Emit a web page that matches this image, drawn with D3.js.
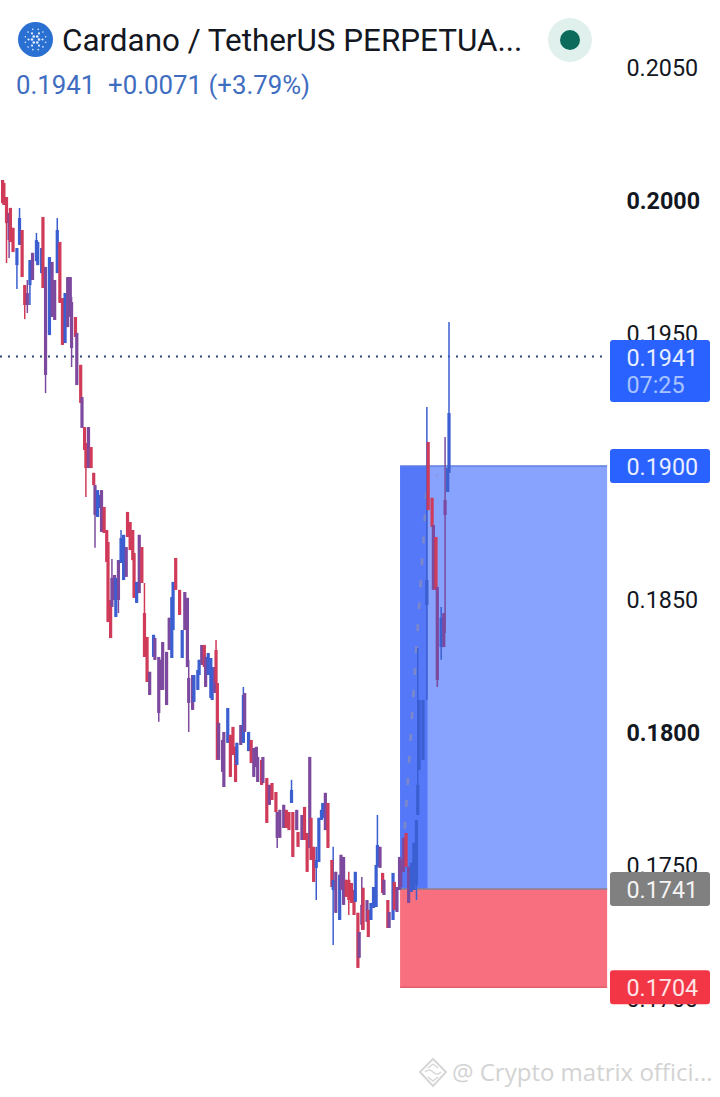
<!DOCTYPE html>
<html><head><meta charset="utf-8">
<script src="https://cdn.jsdelivr.net/npm/d3@7"></script>
<style>html,body{margin:0;padding:0;background:#fff}svg{display:block}text{font-family:Roboto,sans-serif}</style>
</head><body><svg id="c" width="720" height="1097"></svg>
<script>
const title = "Cardano / TetherUS PERPETUA...";
const quote = "0.1941  +0.0071 (+3.79%)";
const watermark = "@ Crypto matrix offici...";
const axisTicks = [0.205,0.2,0.195,0.19,0.185,0.18,0.175,0.17];
const boldTicks = [0.2,0.18];
const lastPrice = 0.1941, countdown = "07:25", targetPrice = 0.19, entryPrice = 0.1741, stopPrice = 0.1704;
const boxStart = 307.4, overlapEnd = 328.5, boxEnd = 466.5;
const pathTimes = [311,329,336], pathPrices = [0.1764,0.19,0.18966];

// one candle per entry; prices
const times = [2,3,5,7,8,10,13,15,17,19,21,23,25,28,29,32,33,35,38,40,42,44,46,48,50,52,54,55,58,59,62,63,65,66,68,70,72,73,75,76,78,80,82,83,85,86,88,89,91,93,95,97,98,100,102,103,105,107,109,111,113,115,118,119,122,124,125,128,130,132,133,135,138,140,142,144,145,148,149,152,153,155,157,158,160,162,163,165,166,167,168,171,172,175,177,179,181,182,185,187,188,191,193,195,197,198,201,202,205,207,209,212,213,215,218,220,222,224,225,228,229,232,234,236,238,239,241,243,245,247,248,250,252,255,256,258,261,262,264,266,268,270,272,273,275,276,278,279,282,283,285,287,289,290,292,294,295,298,299,302,303,305,307,308,310,312,314,316,318,320,321,322,325,328,329,332,333,335,336,339,341,342,344,345];
const bodyHigh = [.20079,.20068,.20015,.19955,.19974,.19899,.19823,.19936,.19891,.19684,.19654,.19778,.19805,.19853,.19846,.19823,.1994,.19752,.19789,.19771,.19703,.19891,.19846,.19635,.19654,.19714,.19714,.1962,.19564,.19504,.19384,.19263,.1915,.1909,.1915,.19075,.18978,.18932,.18913,.18895,.18913,.1885,.18763,.18718,.185,.18583,.18594,.18583,.1865,.18733,.18745,.18699,.18831,.18793,.18763,.18677,.18568,.18745,.18699,.18451,.18361,.1823,.18369,.18357,.18286,.18275,.18342,.18305,.18433,.18511,.18568,.18658,.18538,.18387,.1853,.18508,.18207,.18218,.18218,.18237,.18275,.18331,.18331,.18286,.18301,.18282,.18248,.18248,.18312,.18188,.18038,.17974,.18004,.18094,.17993,.18023,.17948,.17963,.1803,.18143,.1815,.18004,.17974,.17944,.17948,.1791,.17899,.1791,.17831,.17805,.17812,.17778,.17703,.17711,.1773,.17711,.17703,.17786,.17703,.17711,.17628,.17692,.17722,.17624,.1791,.17681,.17572,.17523,.17681,.17711,.17737,.17775,.17737,.17523,.17448,.17478,.17467,.17542,.17534,.17448,.17448,.17436,.1741,.17478,.17324,.17252,.17354,.17418,.17372,.17335,.17361,.17421,.17504,.17579,.17572,.17474,.17448,.17372,.17327,.17474,.1744,.17421,.17534,.17523,.17606,.17624,.17497,.17512,.17587,.17673,.17805,.18124,.18124,.18575,.19094,.18884,.18782,.18737,.18549,.18433,.18451,.18876,.18996,.19203];
const bodyLow = [.19992,.19985,.19917,.19853,.19846,.19808,.19759,.19835,.19714,.19609,.19609,.19684,.19703,.19774,.19759,.19729,.19673,.19346,.19496,.19564,.19553,.19729,.19617,.19459,.19466,.19526,.19564,.19447,.19489,.19308,.19241,.19147,.19064,.18996,.18996,.18996,.18932,.1882,.18812,.18846,.18756,.18752,.18643,.18417,.18357,.18474,.185,.18436,.185,.18639,.18575,.18587,.18737,.18688,.1865,.18508,.18489,.18526,.18564,.18286,.18192,.18143,.18286,.18275,.18075,.18162,.18162,.18105,.18312,.18282,.18387,.18538,.18444,.18282,.18387,.18248,.18113,.18087,.18117,.18162,.18218,.18256,.18248,.18173,.18218,.18132,.18124,.18151,.18188,.17899,.17899,.17854,.17797,.17963,.17835,.17917,.17816,.1788,.17955,.17963,.18004,.17932,.17887,.17835,.17872,.17816,.17805,.17812,.17662,.1773,.17748,.17703,.17606,.17606,.17643,.17643,.17635,.17737,.17534,.17635,.17572,.17598,.17598,.17478,.17568,.17523,.1744,.17493,.17515,.17673,.17681,.17635,.17568,.17421,.1741,.17324,.17297,.1741,.17354,.17384,.17372,.17361,.17316,.17365,.17117,.17155,.17279,.1726,.1729,.17233,.17297,.17342,.17346,.17496,.17493,.17399,.17391,.17267,.17267,.17297,.17335,.17327,.1741,.17421,.17478,.17497,.17361,.17403,.1741,.17429,.17692,.17861,.17899,.18481,.18838,.18775,.18538,.18538,.18199,.18323,.18323,.1882,.18906,.18978];
const tones = ("rrrprrbbrr"+"pbpbbbrpbp"+"pbrrbpppRp"+"rprrprrpbb"+"prrrrppbpb"+"bprrrrbprr"+"rpbppppppb"+"brrbppppbb"+"bprpbbbprr"+"pppbrrrbpb"+"pbrppprprp"+"rrppprrbrp"+"rprrprrbbb"+"bprrbpbppr"+"rrrbrpprpr"+"bbbbprprpb"+"rpppprpbbb"+"bbbbrrprpb"+"ppbb").toLowerCase();
const wickHigh = {15:.19974,21:.19703,28:.1988,44:.19936,55:.19639,86:.18654,93:.18763,111:.18564,145:.18275,166:.1835,187:.18173,224:.17824,243:.17572,256:.17572,268:.17478,278:.17459,290:.17692,321:.1832,328:.19226,339:.18474,342:.19113,345:.19545};
const wickLow = {5:.19767,7:.19786,13:.19669,19:.19556,21:.19579,23:.19609,35:.19278,55:.19376,66:.18887,73:.18696,91:.18451,122:.18042,145:.18004,213:.17568,243:.17372,256:.17203,268:.17316,278:.1726,320:.17372,328:.18124,336:.18173,339:.18275,342:.18376};

const toneColor = {r:"#cf3a58", b:"#3a5ed0", p:"#7c4a9e"};
const svg = d3.select("#c");
const defs = svg.append("defs");
defs.append("filter").attr("id","soft").attr("x","-2%").attr("y","-2%").attr("width","104%").attr("height","104%")
  .append("feGaussianBlur").attr("stdDeviation",0.45);
const x = d3.scaleLinear().domain([0,345]).range([0,449]);
const y = d3.scaleLinear().domain([0.205,0.17]).range([68,999]);
const ya = d3.scaleLinear().domain([0.205,0.17]).range([67,998]);
const fmt = d3.format(".4f");

// axis labels (drawn first: the price tags cover some of them)
svg.append("g").selectAll("text").data(axisTicks).join("text")
  .attr("x",626.5).attr("y",d=>ya(d)+8.5).attr("font-size",23.3).attr("fill","#131722")
  .attr("font-weight",d=>boldTicks.includes(d)?700:400).text(fmt);

// position box
const bx0=x(boxStart), bx1=x(boxEnd);
svg.append("rect").attr("x",bx0).attr("width",bx1-bx0).attr("y",ya(targetPrice)).attr("height",ya(entryPrice)-ya(targetPrice)).attr("fill","#87a3fd");
svg.append("rect").attr("x",bx0).attr("width",x(overlapEnd)-bx0).attr("y",ya(targetPrice)).attr("height",ya(entryPrice)-ya(targetPrice)).attr("fill","#5578f9");
svg.append("rect").attr("x",bx0).attr("width",bx1-bx0).attr("y",ya(entryPrice)).attr("height",ya(stopPrice)-ya(entryPrice)).attr("fill","#f8707f");
[[targetPrice,"#5f80dc"],[entryPrice,"#8a7f90"],[stopPrice,"#e0606e"]].forEach(([p,c])=>
  svg.append("line").attr("x1",bx0).attr("x2",bx1).attr("y1",ya(p)).attr("y2",ya(p)).attr("stroke",c).attr("stroke-width",1.5));

// dashed path inside the box
svg.append("path").datum(pathTimes.map((t,i)=>[t,pathPrices[i]]))
  .attr("d",d3.line().x(d=>x(d[0])).y(d=>y(d[1])))
  .attr("fill","none").attr("stroke","#8f8fb0").attr("stroke-opacity",.65).attr("stroke-width",2.8).attr("stroke-dasharray","7 15");

// last price dotted line
svg.append("line").attr("x1",0).attr("x2",606).attr("y1",ya(lastPrice)-.5).attr("y2",ya(lastPrice)-.5)
  .attr("stroke","#2f4a78").attr("stroke-width",2).attr("stroke-dasharray","2 6");

// candles
const candles = times.map((t,i)=>({t,hi:bodyHigh[i],lo:bodyLow[i],tone:tones[i]||"p",wh:wickHigh[t]||bodyHigh[i],wl:wickLow[t]||bodyLow[i]}));
const g = svg.append("g").attr("filter","url(#soft)");
g.selectAll("line").data(candles).join("line")
  .attr("x1",d=>x(d.t)).attr("x2",d=>x(d.t)).attr("y1",d=>y(d.wh)).attr("y2",d=>y(d.wl))
  .attr("stroke",d=>toneColor[d.tone]).attr("stroke-width",1.5);
g.selectAll("rect").data(candles).join("rect")
  .attr("x",d=>x(d.t)-1.6).attr("width",3.2).attr("y",d=>y(d.hi)).attr("height",d=>Math.max(1,y(d.lo)-y(d.hi)))
  .attr("fill",d=>toneColor[d.tone]);

// price tags
function tag(p,h,fill,lines){
  const t = ya(p)-17;
  svg.append("rect").attr("x",610).attr("y",t).attr("width",100).attr("height",h).attr("rx",3).attr("fill",fill);
  lines.forEach(l=>svg.append("text").attr("x",626.5).attr("y",t+l.dy).attr("font-size",23.3).attr("fill",l.c).text(l.s));
}
tag(lastPrice,62,"#2962ff",[{s:fmt(lastPrice),dy:26,c:"#e8eeff"},{s:countdown,dy:53.5,c:"#a8c2ff"}]);
tag(targetPrice,34,"#2962ff",[{s:fmt(targetPrice),dy:26,c:"#e8eeff"}]);
tag(entryPrice,34,"#808080",[{s:fmt(entryPrice),dy:26,c:"#f4f4f4"}]);
tag(stopPrice,34,"#f23645",[{s:fmt(stopPrice),dy:26,c:"#fde4e6"}]);

// header
svg.append("circle").attr("cx",35.5).attr("cy",39.5).attr("r",17.5).attr("fill","#2a6fd2");
[[3.5,6,1.3],[7,6,1.1],[10.5,12,.8]].forEach(([r,n,s])=>d3.range(n).forEach(k=>{
  const a=k*2*Math.PI/n+(r>9?.26:0);
  svg.append("circle").attr("cx",35.5+r*Math.cos(a)).attr("cy",39.5+r*Math.sin(a)).attr("r",s).attr("fill","#e4eefc");
}));
svg.append("text").attr("x",62).attr("y",50.5).attr("font-size",31.4).attr("fill","#131722").text(title);
svg.append("text").attr("x",16).attr("y",93.5).attr("font-size",25.8).attr("fill","#3f6dbf").attr("xml:space","preserve").style("white-space","pre").text(quote);
svg.append("circle").attr("cx",570).attr("cy",40).attr("r",22).attr("fill","#dff0ed");
svg.append("circle").attr("cx",570).attr("cy",40).attr("r",10).attr("fill","#0d6b5c");

// watermark
const wm = svg.append("g").attr("fill","none").attr("stroke","#d6d6d6").attr("stroke-width",2);
wm.append("path").attr("d","M433 1059l13 13-13 14-13-14z");
wm.append("path").attr("d","M425 1072c3-3 5-3 8 0s5 3 8 0 M433 1064l5 4 M433 1064l-5 4 M428 1077l5 4 5-4").attr("stroke-width",1.5);
svg.append("text").attr("x",452).attr("y",1081).style("font-family","'Open Sans'").attr("font-size",24).attr("fill","#d3d3d3").text(watermark);
</script></body></html>
